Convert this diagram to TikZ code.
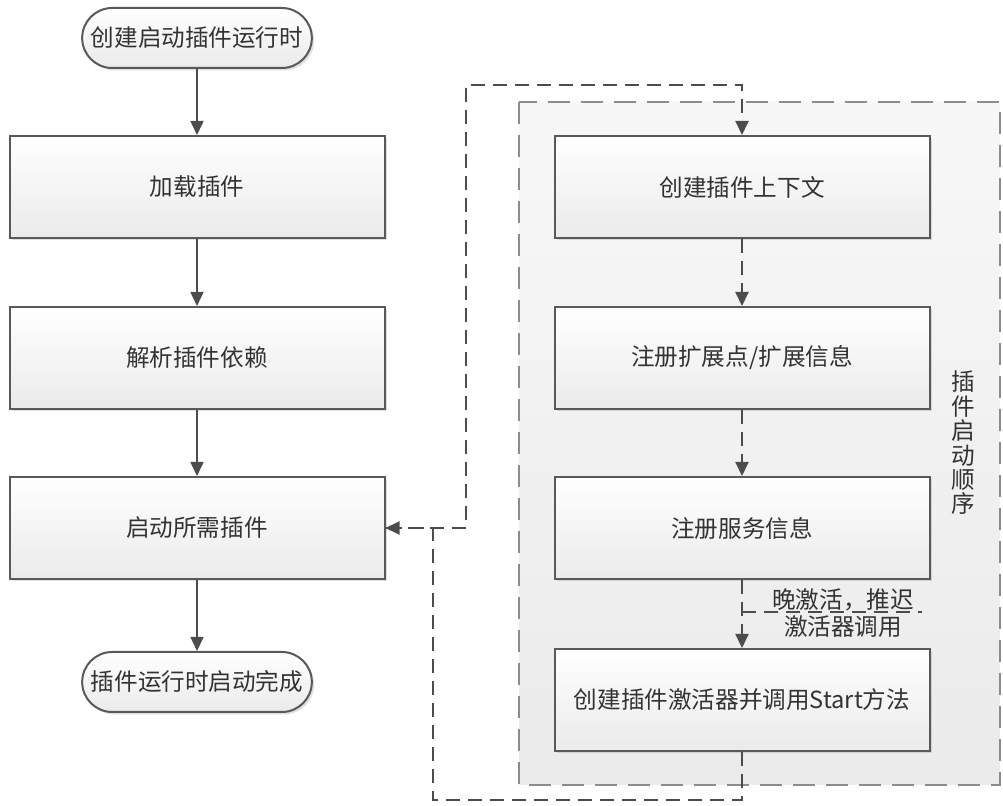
\documentclass[tikz,border=0pt]{standalone}
\usepackage{fontspec}
\newfontfamily\cjk{Noto Sans CJK SC}
\usetikzlibrary{positioning, arrows.meta, shadows, shapes.misc}

\tikzset{
  box/.style={rectangle, draw=black!65, line width=1pt, top color=white, bottom color=black!8,
    minimum width=187.5pt, minimum height=51pt, text=black!80,
    font=\cjk\fontsize{11.8}{14}\selectfont,
    drop shadow={shadow xshift=1.2pt, shadow yshift=-1.2pt, opacity=0.25}},
  term/.style={box, rounded rectangle, minimum width=121.5pt, minimum height=30pt},
  flow/.style={-{Triangle[length=7pt,width=6.5pt]}, draw=black!70, line width=0.8pt},
  dflow/.style={flow, line width=1pt, dash pattern=on 7pt off 4pt},
}

\begin{document}
\begin{tikzpicture}[x=0.5pt,y=-0.5pt]
\useasboundingbox (0,0) rectangle (1003,806);

% plugin start group
\draw[draw=black!45, line width=1.1pt, dash pattern=on 11pt off 5.5pt, top color=black!3, bottom color=black!8]
  (519,102) rectangle (1000,785);
\node[text=black!80, font=\cjk\fontsize{11.8}{12.2}\selectfont, align=center] (order) at (963,443) {插\\件\\启\\动\\顺\\序};

% main flow
\node[term] (start) at (197,38) {创建启动插件运行时};
\node[box] (load) at (197,187) {加载插件};
\node[box] (parse) at (197,358) {解析插件依赖};
\node[box] (run) at (197,528) {启动所需插件};
\node[term] (done) at (197,682) {插件运行时启动完成};

\draw[flow] (start) -- (load);
\draw[flow] (load) -- (parse);
\draw[flow] (parse) -- (run);
\draw[flow] (run) -- (done);

% per plugin steps
\node[box] (ctx) at (742,187) {创建插件上下文};
\node[box] (ext) at (742,358) {注册扩展点/扩展信息};
\node[box] (svc) at (742,528) {注册服务信息};
\node[box] (act) at (742,700) {创建插件激活器并调用Start方法};

\draw[dflow] (ctx) -- (ext);
\draw[dflow] (ext) -- (svc);
\draw[dflow] (svc) -- (act);

\coordinate (lateA) at (742,612);
\coordinate (lateB) at (922,612);
\draw[draw=black!70, line width=1pt, dash pattern=on 7pt off 4pt] (lateA) -- (lateB);
\node[text=black!80, font=\cjk\fontsize{11.8}{13.5}\selectfont, align=center] (late) at (843,613) {晚激活，推迟\\激活器调用};

% loop between the two columns
\coordinate (topbend) at (466,85);
\coordinate (lowbend) at (433,800);
\draw[dflow] (run.east) -| (topbend) -| (ctx.north);
\draw[dflow] (act.south) |- (lowbend) |- (run.east);

\end{tikzpicture}
\end{document}
